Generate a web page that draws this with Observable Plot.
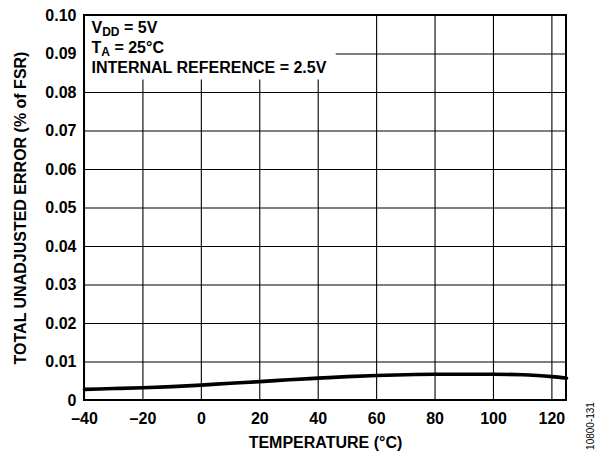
<!DOCTYPE html>
<html><head><meta charset="utf-8">
<script src="https://cdn.jsdelivr.net/npm/d3@7"></script>
<script src="https://cdn.jsdelivr.net/npm/@observablehq/plot@0.6"></script>
<style>
body{margin:0;background:#fff;}
#chart{width:605px;height:454px;}
</style></head><body><div id="chart"></div>
<script>
// Data
const temperatures = [-40, -30, -20, -10, 0, 10, 20, 30, 40, 50, 60, 70, 80, 90, 100, 110, 115, 120, 125];
const totalUnadjustedError = [0.0029, 0.0031, 0.0033, 0.0036, 0.0040, 0.0045, 0.0049, 0.0054, 0.0058, 0.0062, 0.0065, 0.0067, 0.0068, 0.0068, 0.0068, 0.0067, 0.0065, 0.0062, 0.0058];
const xTicks = [-40, -20, 0, 20, 40, 60, 80, 100, 120];
const yTicks = [0, 0.01, 0.02, 0.03, 0.04, 0.05, 0.06, 0.07, 0.08, 0.09, 0.10];
const xLabel = "TEMPERATURE (°C)";
const yLabel = "TOTAL UNADJUSTED ERROR (% of FSR)";
const figureId = "10800-131";
const annotation = [
  [["V", false], ["DD", true], [" = 5V", false]],
  [["T", false], ["A", true], [" = 25°C", false]],
  [["INTERNAL REFERENCE = 2.5V", false]]
];

const rows = temperatures.map((t, i) => ({t, v: totalUnadjustedError[i]}));
const font = "'Liberation Sans', Arial, Helvetica, sans-serif";

const plot = Plot.plot({
  width: 605, height: 454,
  marginLeft: 84, marginRight: 39, marginTop: 15, marginBottom: 54,
  style: {fontFamily: font, fontSize: "16px", fontWeight: "bold", color: "#000", background: "#fff"},
  x: {domain: [-40, 125]},
  y: {domain: [0, 0.1]},
  marks: [
    Plot.gridX(xTicks, {stroke: "#000", strokeOpacity: 1, strokeWidth: 1.1}),
    Plot.gridY(yTicks, {stroke: "#000", strokeOpacity: 1, strokeWidth: 1.1}),
    Plot.line(rows, {x: "t", y: "v", stroke: "#000", strokeWidth: 3.6, curve: "monotone-x"}),
    Plot.axisX(xTicks, {tickSize: 0, tickPadding: 12, tickFormat: d => d < 0 ? "\u2013" + Math.abs(d) : String(d),
      label: xLabel, labelAnchor: "center", labelArrow: "none", labelOffset: 47}),
    Plot.axisY(yTicks, {tickSize: 0, tickPadding: 8, tickFormat: d => d === 0 ? "0" : d.toFixed(2),
      label: yLabel, labelAnchor: "center", labelArrow: "none", labelOffset: 70})
  ]
});
document.getElementById("chart").appendChild(plot);

const svg = d3.select(plot);
const sx = plot.scale("x"), sy = plot.scale("y");
const pLeft = sx.apply(-40), pRight = sx.apply(125), pTop = sy.apply(0.1), pBottom = sy.apply(0);

// annotation block with a white backing that interrupts the grid
const g = svg.append("g");
const box = g.append("rect").attr("fill", "#fff");
const tg = g.append("g").attr("font-family", font).attr("font-weight", "bold").attr("font-size", 16)
  .attr("text-anchor", "start");
const baselines = [18, 37.5, 57.5];
annotation.forEach((parts, i) => {
  const t = tg.append("text").attr("x", pLeft + 7.5).attr("y", pTop + baselines[i]);
  let shifted = false;
  parts.forEach(([s, sub]) => {
    const sp = t.append("tspan").text(s);
    if (sub) { sp.attr("font-size", 12).attr("dy", 3); shifted = true; }
    else if (shifted) { sp.attr("dy", -3); shifted = false; }
  });
});
const bb = tg.node().getBBox();
box.attr("x", pLeft).attr("y", pTop).attr("width", bb.x + bb.width + 9 - pLeft).attr("height", bb.y + bb.height + 4 - pTop);

// frame on top
svg.append("rect").attr("x", pLeft).attr("y", pTop).attr("width", pRight - pLeft).attr("height", pBottom - pTop)
  .attr("fill", "none").attr("stroke", "#000").attr("stroke-width", 2);

// figure id
svg.append("text").attr("transform", `translate(590,426) rotate(-90)`)
  .attr("text-anchor", "middle").attr("dominant-baseline", "central")
  .attr("font-family", font).attr("font-weight", "normal").attr("font-size", 10).text(figureId);
</script>
</body></html>
